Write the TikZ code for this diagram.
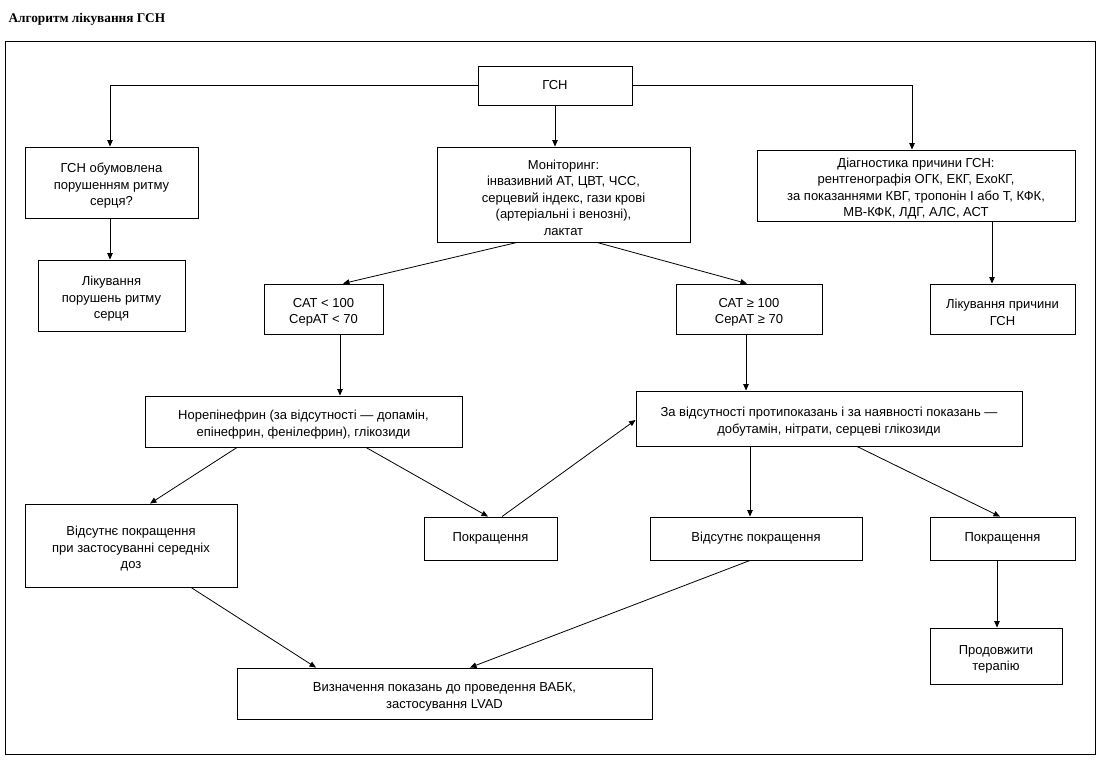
\documentclass[tikz,border=0pt]{standalone}
\usepackage{fontspec}
\setmainfont{Liberation Sans}
\newfontfamily\titlefont{Liberation Serif}
\usetikzlibrary{arrows.meta,calc}
\newcommand{\fstrut}{\rule{0pt}{16pt}}
\begin{document}
\begin{tikzpicture}[x=1pt,y=-1pt,
  box/.style={draw, line width=0.9pt, align=center, inner sep=0pt,
    font=\fontsize{13}{16.5}\selectfont},
  arr/.style={line width=0.8pt, -{Triangle[length=6.5pt,width=5.5pt]}}]
\useasboundingbox (0,0) rectangle (1101,760);
\node[anchor=base west, font=\titlefont\bfseries\fontsize{13.3}{15}\selectfont] (title) at (5,23) {Алгоритм лікування ГСН};
\draw[line width=1pt] (5,42) rectangle (1095,754);

\node[box, minimum width=154, minimum height=39] (gsn) at (555,85.5) {ГСН};
\node[box, minimum width=173, minimum height=71] (rhythm) at (111.5,182.5) {\fstrut ГСН обумовлена\\порушенням ритму\\серця?};
\node[box, minimum width=253, minimum height=95] (mon) at (563.5,194.5) {\fstrut Моніторинг:\\інвазивний АТ, ЦВТ, ЧСС,\\серцевий індекс, гази крові\\(артеріальні і венозні),\\лактат};
\node[box, minimum width=318, minimum height=71] (diag) at (916,185.5) {\fstrut Діагностика причини ГСН:\\рентгенографія ОГК, ЕКГ, ЕхоКГ,\\за показаннями КВГ, тропонін І або Т, КФК,\\МВ-КФК, ЛДГ, АЛС, АСТ};
\node[box, minimum width=147, minimum height=71] (rhtreat) at (111.5,295.5) {\fstrut Лікування\\порушень ритму\\серця};
\node[box, minimum width=119, minimum height=50] (sat1) at (323.5,309) {\fstrut САТ < 100\\СерАТ < 70};
\node[box, minimum width=146, minimum height=50] (sat2) at (749,309) {\fstrut САТ ≥ 100\\СерАТ ≥ 70};
\node[box, minimum width=145, minimum height=50] (cause) at (1002.5,309) {\fstrut Лікування причини\\ГСН};
\node[box, minimum width=317, minimum height=51] (nor) at (303.5,421.5) {\fstrut Норепінефрин (за відсутності — допамін,\\епінефрин, фенілефрин), глікозиди};
\node[box, minimum width=386, minimum height=55] (dob) at (829,418.5) {\fstrut За відсутності протипоказань і за наявності показань —\\добутамін, нітрати, серцеві глікозиди};
\node[box, minimum width=212, minimum height=83] (noimp1) at (131,545.5) {\fstrut Відсутнє покращення\\при застосуванні середніх\\доз};
\node[box, minimum width=133, minimum height=43] (imp1) at (490.5,538.5) {Покращення};
\node[box, minimum width=212, minimum height=43] (noimp2) at (756,538.5) {Відсутнє покращення};
\node[box, minimum width=145, minimum height=43] (imp2) at (1002.5,538.5) {Покращення};
\node[box, minimum width=132, minimum height=56] (cont) at (996,656) {\fstrut Продовжити\\терапію};
\node[box, minimum width=415, minimum height=51] (vabk) at (444.5,693.5) {\fstrut Визначення показань до проведення ВАБК,\\застосування LVAD};

\draw[arr] (gsn.west) -| ([xshift=-1.5pt]rhythm.north);
\draw[arr] (gsn.east) -| ([xshift=-4pt]diag.north);
\draw[arr] (gsn.south) -- (gsn.south |- mon.north);
\draw[arr] ([xshift=-1.5pt]rhythm.south) -- ([xshift=-1.5pt]rhythm.south |- rhtreat.north);
\draw[arr] ([xshift=-10.5pt]cause.north |- diag.south) -- ([xshift=-10.5pt]cause.north);
\draw[arr] ([xshift=-46.5pt]mon.south) -- ([xshift=19.5pt]sat1.north);
\draw[arr] ([xshift=33.5pt]mon.south) -- ([xshift=-2pt]sat2.north);
\draw[arr] ([xshift=16.5pt]sat1.south) -- ([xshift=16.5pt]sat1.south |- nor.north);
\draw[arr] ([xshift=-3pt]sat2.south) -- ([xshift=-3pt]sat2.south |- dob.north);
\draw[arr] ([xshift=-66.5pt]nor.south) -- ([xshift=19pt]noimp1.north);
\draw[arr] ([xshift=62.5pt]nor.south) -- ([xshift=-2.5pt]imp1.north);
\draw[arr] ([xshift=11.5pt]imp1.north) -- ([yshift=-1.5pt]dob.west);
\draw[arr] ([xshift=-79pt]dob.south) -- ([xshift=-79pt]dob.south |- noimp2.north);
\draw[arr] ([xshift=28pt]dob.south) -- ([xshift=-2.5pt]imp2.north);
\draw[arr] ([xshift=-5.5pt]imp2.south) -- ([xshift=-5.5pt]imp2.south |- cont.north);
\draw[arr] ([xshift=60pt]noimp1.south) -- ([xshift=-128.5pt]vabk.north);
\draw[arr] ([xshift=-6pt]noimp2.south) -- ([xshift=25.5pt]vabk.north);
\end{tikzpicture}
\end{document}
